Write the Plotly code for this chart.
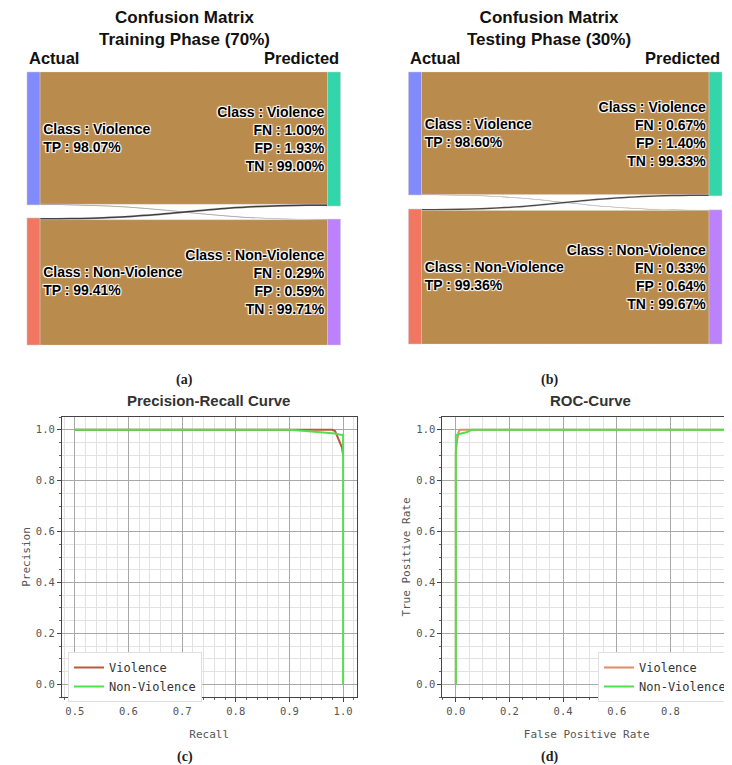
import plotly.graph_objects as go

# page is 732x765; the html body adds an 8px margin, so the figure is 724x757
OFF = 8
W, H = 732 - OFF, 765 - OFF

# ---------------- data ----------------
node_labels_train = [
    "<b>Class : Violence<br>TP : 98.07%</b>",
    "<b>Class : Non-Violence<br>TP : 99.41%</b>",
    "<b>Class : Violence<br>FN : 1.00%<br>FP : 1.93%<br>TN : 99.00%</b>",
    "<b>Class : Non-Violence<br>FN : 0.29%<br>FP : 0.59%<br>TN : 99.71%</b>",
]
node_labels_test = [
    "<b>Class : Violence<br>TP : 98.60%</b>",
    "<b>Class : Non-Violence<br>TP : 99.36%</b>",
    "<b>Class : Violence<br>FN : 0.67%<br>FP : 1.40%<br>TN : 99.33%</b>",
    "<b>Class : Non-Violence<br>FN : 0.33%<br>FP : 0.64%<br>TN : 99.67%</b>",
]
link_source = [0, 0, 1, 1]
link_target = [2, 3, 2, 3]
link_values_train = [132.0, 0.7, 1.8, 125.0]
link_values_test = [122.4, 0.6, 1.5, 133.5]

pr_recall_v = [0.5, 0.9, 0.95, 0.98, 0.985, 0.99, 0.995, 0.998, 1.0]
pr_prec_v = [1.0, 1.0, 1.0, 1.0, 0.995, 0.97, 0.95, 0.93, 0.90]
pr_recall_nv = [0.5, 0.9, 0.93, 0.96, 0.985, 0.995, 1.0, 1.0]
pr_prec_nv = [1.0, 1.0, 0.995, 0.99, 0.985, 0.98, 0.98, 0.0]

roc_fpr_v = [0.0, 0.0, 0.005, 0.01, 0.015, 1.0]
roc_tpr_v = [0.0, 0.91, 0.96, 0.99, 1.0, 1.0]
roc_fpr_nv = [0.0, 0.0, 0.02, 0.04, 0.06, 1.0]
roc_tpr_nv = [0.0, 0.978, 0.985, 0.99, 1.0, 1.0]

tick_vals_y = [0, 0.2, 0.4, 0.6, 0.8, 1.0]
tick_text_y = ["0.0", "0.2", "0.4", "0.6", "0.8", "1.0"]
tick_vals_pr_x = [0.5, 0.6, 0.7, 0.8, 0.9, 1.0]
tick_text_pr_x = ["0.5", "0.6", "0.7", "0.8", "0.9", "1.0"]

# ---------------- styles ----------------
node_colors = ["#828bfb", "#f27762", "#33d6ab", "#bc82fb"]
tan = "#b98b4d"
link_colors = [tan, "rgba(110,110,110,0.9)", "rgba(40,40,40,0.95)", tan]
mono = "DejaVu Sans Mono"
sans = "Liberation Sans"


def px_x(p):
    return (p - OFF) / W


def px_y(p):
    return 1 - (p - OFF) / H


fig = go.Figure()


def add_sankey(labels, values, x0, x1, y0, y1, pad):
    fig.add_trace(go.Sankey(
        arrangement="fixed",
        domain=dict(x=[px_x(x0), px_x(x1)], y=[px_y(y1), px_y(y0)]),
        node=dict(label=labels, color=node_colors, pad=pad, thickness=13,
                  line=dict(color="#d0d0d0", width=0.5)),
        link=dict(source=link_source, target=link_target, value=values,
                  color=link_colors, line=dict(color="#ddd", width=0.3)),
        textfont=dict(family=sans, size=14, color="#000"),
    ))


add_sankey(node_labels_train, link_values_train, 27, 341, 72, 345, 13)
add_sankey(node_labels_test, link_values_test, 409, 723, 72, 344, 14)

brown_pr = "#b85a3c"
brown_roc = "#e08a66"
green = "#50e050"

fig.add_trace(go.Scatter(x=pr_recall_v, y=pr_prec_v, mode="lines", name="Violence",
                         line=dict(color=brown_pr, width=2), xaxis="x", yaxis="y", legend="legend"))
fig.add_trace(go.Scatter(x=pr_recall_nv, y=pr_prec_nv, mode="lines", name="Non-Violence",
                         line=dict(color=green, width=2), xaxis="x", yaxis="y", legend="legend"))
fig.add_trace(go.Scatter(x=roc_fpr_v, y=roc_tpr_v, mode="lines", name="Violence",
                         line=dict(color=brown_roc, width=2), xaxis="x2", yaxis="y2", legend="legend2"))
fig.add_trace(go.Scatter(x=roc_fpr_nv, y=roc_tpr_nv, mode="lines", name="Non-Violence",
                         line=dict(color=green, width=2), xaxis="x2", yaxis="y2", legend="legend2"))

ydom = [px_y(697), px_y(417)]
minor_grid = "#e2e2e2"


def axis_style(**kw):
    d = dict(
        showline=True, linecolor="#444", linewidth=1,
        ticks="outside", ticklen=4, tickcolor="#444",
        tickfont=dict(family=mono, size=10.5, color="#555"),
        showgrid=True, gridcolor="#a8a8a8", gridwidth=1,
        zeroline=False,
        title_font=dict(family=mono, size=11, color="#555"),
    )
    d.update(kw)
    return d


fig.update_layout(
    width=W, height=H,
    margin=dict(l=0, r=0, t=0, b=0),
    paper_bgcolor="white", plot_bgcolor="white",
    showlegend=True,
    xaxis=axis_style(domain=[px_x(62), px_x(357)], range=[0.476, 1.025], anchor="y",
                     tickvals=tick_vals_pr_x, ticktext=tick_text_pr_x,
                     mirror=True, title=dict(text="Recall", standoff=14),
                     minor=dict(dtick=0.02, tick0=0.5, showgrid=True, gridcolor=minor_grid,
                                ticks="outside", ticklen=2, tickcolor="#666")),
    yaxis=axis_style(domain=ydom, range=[-0.05, 1.05], anchor="x",
                     tickvals=tick_vals_y, ticktext=tick_text_y,
                     mirror=True, title=dict(text="Precision", standoff=3),
                     minor=dict(dtick=0.05, tick0=0, showgrid=True, gridcolor=minor_grid,
                                ticks="outside", ticklen=2, tickcolor="#666")),
    xaxis2=axis_style(domain=[px_x(443), 1.0], range=[-0.05, 1.026], anchor="y2",
                      tickvals=tick_vals_y, ticktext=tick_text_y,
                      mirror=True, title=dict(text="False Positive Rate", standoff=14),
                      minor=dict(dtick=0.05, tick0=0, showgrid=True, gridcolor=minor_grid,
                                 ticks="outside", ticklen=2, tickcolor="#666")),
    yaxis2=axis_style(domain=ydom, range=[-0.05, 1.05], anchor="x2",
                      tickvals=tick_vals_y, ticktext=tick_text_y,
                      mirror=False, title=dict(text="True Positive Rate", standoff=3),
                      minor=dict(dtick=0.05, tick0=0, showgrid=True, gridcolor=minor_grid,
                                 ticks="outside", ticklen=2, tickcolor="#666")),
    legend=dict(x=px_x(68), y=px_y(652), xanchor="left", yanchor="top",
                bgcolor="white", bordercolor="#e0e0e0", borderwidth=1,
                font=dict(family=mono, size=12, color="#333"), itemwidth=30,
                tracegroupgap=0),
    legend2=dict(x=px_x(599), y=px_y(652), xanchor="left", yanchor="top",
                 bgcolor="white", bordercolor="#e0e0e0", borderwidth=1,
                 font=dict(family=mono, size=12, color="#333"), itemwidth=30,
                 tracegroupgap=0),
)

ann = []


def text(x, y, s, size, family=sans, color="#111", xanchor="center"):
    ann.append(dict(x=px_x(x), y=px_y(y), xref="paper", yref="paper", text=s, showarrow=False,
                    xanchor=xanchor, yanchor="middle", font=dict(family=family, size=size, color=color)))


text(185, 28, "<b>Confusion Matrix<br>Training Phase (70%)</b>", 17)
text(550, 28, "<b>Confusion Matrix<br>Testing Phase (30%)</b>", 17)
text(27, 58, "<b>Actual</b>", 16.5, xanchor="left")
text(341, 58, "<b>Predicted</b>", 16.5, xanchor="right")
text(409, 58, "<b>Actual</b>", 16.5, xanchor="left")
text(723, 58, "<b>Predicted</b>", 16.5, xanchor="right")
text(209, 400, "<b>Precision-Recall Curve</b>", 15, color="#333")
text(591, 400, "<b>ROC-Curve</b>", 15, color="#333")
text(185, 380, "<b>(a)</b>", 14, family="Liberation Serif", color="#222")
text(550, 380, "<b>(b)</b>", 14, family="Liberation Serif", color="#222")
text(185, 757, "<b>(c)</b>", 14, family="Liberation Serif", color="#222")
text(550, 757, "<b>(d)</b>", 14, family="Liberation Serif", color="#222")
fig.update_layout(annotations=ann)

fig.write_html("out.html")
